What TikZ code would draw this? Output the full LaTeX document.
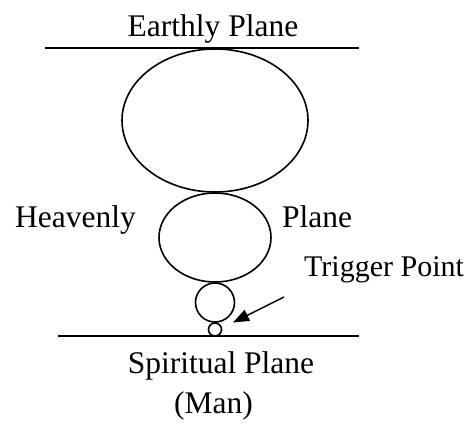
\documentclass[tikz,border=0pt]{standalone}
\usepackage{fontspec}
\setmainfont{Liberation Serif}
\usepackage{tikz}
\usetikzlibrary{arrows.meta, shapes.geometric, positioning}

\begin{document}
\begin{tikzpicture}[
  x=1pt, y=-1pt,
  lbl/.style={font=\fontsize{31.5}{36}\selectfont, inner sep=0pt},
  orb/.style={draw, ellipse, line width=1.6pt, inner sep=0pt, outer sep=0pt},
  plane/.style={line width=1.6pt},
  ptr/.style={-{Triangle[length=16pt, width=12pt]}, line width=1.4pt}
]
\useasboundingbox (0,0) rectangle (476,426);

% the planes
\draw[plane] (45,48) -- (359,48);
\draw[plane] (58,336) -- (359,336);

% the bubbles, stacked on one another
\node[orb, minimum width=186pt, minimum height=143pt] (earthly) at (215,120.5) {};
\node[orb, minimum width=112pt, minimum height=89pt, below=1pt of earthly] (heavenly) {};
\node[orb, circle, minimum size=39pt, below=1pt of heavenly] (soul) {};
\node[orb, circle, minimum size=13pt, below=1pt of soul] (seed) {};

\node[lbl, anchor=base] (tEarth) at (213,36) {Earthly Plane};
\node[lbl, anchor=base west] (tHeav) at (15,227) {Heavenly};
\node[lbl, anchor=base west] (tPlane) at (282,227) {Plane};
\node[lbl, anchor=base west, font=\fontsize{30}{36}\selectfont] (tTrig) at (304,276) {Trigger Point};
\node[lbl, anchor=base] (tSpirit) at (221,373) {Spiritual Plane};
\node[lbl, anchor=base] (tMan) at (213.5,413) {(Man)};

\coordinate (trigTail) at (284,297);
\coordinate (trigTip) at (233,322.5);
\draw[ptr] (trigTail) -- (trigTip);

\end{tikzpicture}
\end{document}
